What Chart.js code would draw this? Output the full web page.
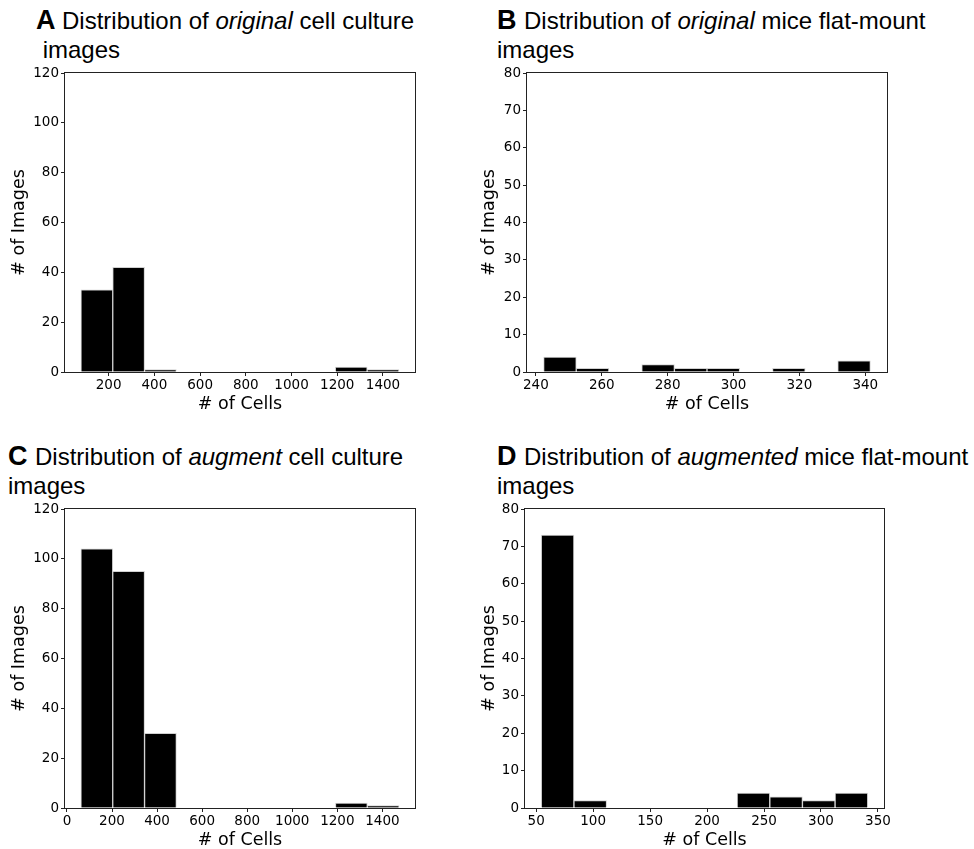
<!DOCTYPE html>
<html>
<head>
<meta charset="utf-8">
<title>Cell count distributions</title>
<script src="https://cdn.jsdelivr.net/npm/chart.js@4.4.0/dist/chart.umd.min.js"></script>
<style>
    body { margin: 0; background: #fff; overflow: hidden; }
    #page { position: relative; width: 974px; height: 849px; overflow: hidden; font-family: "Liberation Sans", Arial, sans-serif; }
    .title { position: absolute; font-size: 24px; line-height: 30px; white-space: pre; color: #000; }
    .title b { font-size: 27px; }
    canvas { position: absolute; }
</style>
</head>
<body>
<div id="page">
    <div class="title" style="left:36px;top:5px"><b>A </b>Distribution of <i>original</i> cell culture</div>
    <div class="title" style="left:36px;top:35px"> images</div>
    <div class="title" style="left:497px;top:5px"><b>B </b>Distribution of <i>original</i> mice flat-mount</div>
    <div class="title" style="left:497px;top:35px">images</div>
    <div class="title" style="left:8px;top:441px"><b>C </b>Distribution of <i>augment</i> cell culture</div>
    <div class="title" style="left:8px;top:471px">images</div>
    <div class="title" style="left:497px;top:441px"><b>D </b>Distribution of <i>augmented</i> mice flat-mount</div>
    <div class="title" style="left:497px;top:471px">images</div>

    <canvas id="chart-a" width="440" height="360" style="left:0;top:60px"></canvas>
    <canvas id="chart-b" width="440" height="360" style="left:470px;top:60px"></canvas>
    <canvas id="chart-c" width="440" height="360" style="left:0;top:496px"></canvas>
    <canvas id="chart-d" width="440" height="360" style="left:470px;top:496px"></canvas>
</div>

<script>
// A: original cell culture images (bin centres and counts)
const cultureOrigBins = [148.3, 287.4, 426.5, 565.6, 704.7, 843.8, 982.9, 1122.0, 1261.1, 1400.2];
const cultureOrigCounts = [33, 42, 1, 0, 0, 0, 0, 0, 2, 1];
const cultureOrigRange = [9, 1540];

// B: original mice flat-mount images
const miceOrigBins = [247.3, 257.2, 267.1, 277.1, 287.0, 296.9, 306.9, 316.8, 326.7, 336.6];
const miceOrigCounts = [4, 1, 0, 2, 1, 1, 0, 1, 0, 3];
const miceOrigRange = [237.3, 346.6];

// C: augmented cell culture images
const cultureAugBins = [132.6, 273.8, 415.0, 556.2, 697.4, 838.6, 979.8, 1121.0, 1262.2, 1403.4];
const cultureAugCounts = [104, 95, 30, 0, 0, 0, 0, 0, 2, 1];
const cultureAugRange = [-8.6, 1544.6];

// D: augmented mice flat-mount images
const miceAugBins = [68.8, 97.5, 126.1, 154.8, 183.4, 212.1, 240.7, 269.4, 298.0, 326.7];
const miceAugCounts = [73, 2, 0, 0, 0, 0, 4, 3, 2, 4];
const miceAugRange = [40.2, 355.3];

Chart.defaults.font.family = '"DejaVu Sans", sans-serif';
Chart.defaults.color = '#000';

// draw the box around the plot area
const framePlugin = {
    id: 'frame',
    afterDraw(chart) {
        const a = chart.chartArea;
        const ctx = chart.ctx;
        ctx.save();
        ctx.strokeStyle = '#222';
        ctx.lineWidth = 1;
        ctx.strokeRect(a.left - 0.5, a.top - 0.5, a.right - a.left + 1, a.bottom - a.top + 1);
        ctx.restore();
    }
};

function makeHistogram(id, bins, counts, xRange, xStep, yMax, yStep, yWidth, padRight) {
    const points = bins.map((b, i) => ({ x: b, y: counts[i] }));
    return new Chart(document.getElementById(id), {
        type: 'bar',
        data: {
            datasets: [{
                data: points,
                backgroundColor: '#000',
                borderColor: '#d0d0d0',
                borderWidth: 1,
                barPercentage: 1,
                categoryPercentage: 1
            }]
        },
        options: {
            responsive: false,
            animation: false,
            layout: { padding: { top: 13, right: padRight, left: 0, bottom: 0 } },
            plugins: { legend: { display: false }, tooltip: { enabled: false } },
            scales: {
                x: {
                    type: 'linear',
                    offset: false,
                    min: xRange[0],
                    max: xRange[1],
                    grid: { offset: false, drawOnChartArea: false, color: '#222', tickLength: 4 },
                    border: { display: false },
                    ticks: {
                        stepSize: xStep,
                        includeBounds: false,
                        padding: 1,
                        maxRotation: 0,
                        font: { size: 13.5 },
                        callback: v => String(v)
                    },
                    title: { display: true, text: '# of Cells', font: { size: 17.5 }, padding: { top: 0, bottom: 5.5 } },
                    afterFit: s => { s.height = 48; }
                },
                y: {
                    min: 0,
                    max: yMax,
                    grid: { drawOnChartArea: false, color: '#222', tickLength: 4 },
                    border: { display: false },
                    ticks: { stepSize: yStep, padding: 2, font: { size: 13.5 } },
                    title: { display: true, text: '# of Images', font: { size: 17.5 }, padding: { top: 9, bottom: 0 } },
                    afterFit: s => { s.width = yWidth; }
                }
            }
        },
        plugins: [framePlugin]
    });
}

makeHistogram('chart-a', cultureOrigBins, cultureOrigCounts, cultureOrigRange, 200, 120, 20, 65, 25);
makeHistogram('chart-b', miceOrigBins, miceOrigCounts, miceOrigRange, 20, 80, 10, 57, 23);
makeHistogram('chart-c', cultureAugBins, cultureAugCounts, cultureAugRange, 200, 120, 20, 65, 25);
makeHistogram('chart-d', miceAugBins, miceAugCounts, miceAugRange, 50, 80, 10, 55, 26);
</script>
</body>
</html>
